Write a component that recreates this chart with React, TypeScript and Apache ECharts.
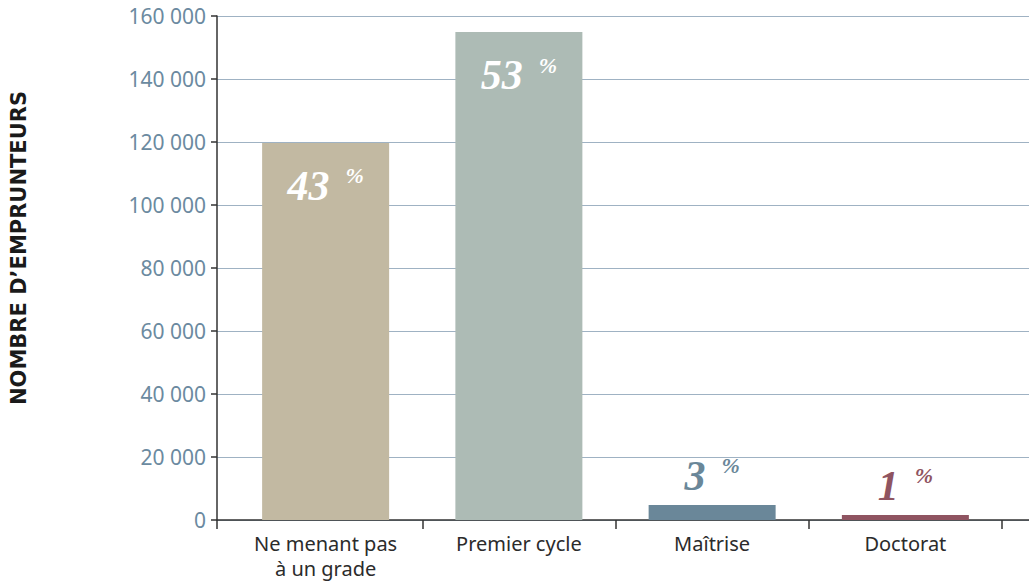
import React, { useEffect, useRef } from "react";
import * as echarts from "echarts";

const categories = ["Ne menant pas\nà un grade", "Premier cycle", "Maîtrise", "Doctorat"];
const borrowers = [119700, 154900, 4800, 1600];
const shares = ["43", "53", "3", "1"];
const barColors = ["#c2b9a2", "#adbbb5", "#6a8799", "#8f5461"];
const labelColors = ["#ffffff", "#ffffff", "#6a8799", "#8f5461"];
const labelInside = [true, true, false, false];
const yTicks = { min: 0, max: 160000, interval: 20000 };
const yAxisTitle = "NOMBRE D’EMPRUNTEURS";

const fmt = (v: number) => (v === 0 ? "0" : String(v).replace(/\B(?=(\d{3})+(?!\d))/g, " "));

export default function App() {
  const ref = useRef<HTMLDivElement>(null);
  useEffect(() => {
    document.body.style.margin = "0";
    const chart = echarts.init(ref.current!, null, { renderer: "svg" });
    const data = borrowers.map((v, i) => ({
      value: v,
      itemStyle: { color: barColors[i] },
      label: {
        show: true,
        position: labelInside[i] ? "insideTop" : "top",
        distance: labelInside[i] ? 22 : 8,
        formatter: `{n|${shares[i]}}{p|%}`,
        rich: {
          n: {
            fontFamily: "Liberation Serif",
            fontStyle: "italic",
            fontWeight: "bold",
            fontSize: 42,
            color: labelColors[i],
            verticalAlign: "bottom",
          },
          p: {
            fontFamily: "Liberation Serif",
            fontStyle: "italic",
            fontWeight: "bold",
            fontSize: 22,
            color: labelColors[i],
            verticalAlign: "top",
            padding: [0, 0, 12, 16],
          },
        },
      },
    }));
    chart.setOption({
      animation: false,
      grid: [
        { left: 229, right: 27, top: 16, bottom: 61 },
        { left: 217, right: 0, top: 16, bottom: 61 },
      ],
      xAxis: [
        {
          gridIndex: 0,
          type: "category",
          data: categories,
          axisLine: { show: false },
          axisTick: {
            show: true,
            length: 9,
            lineStyle: { color: "#333", width: 1.5 },
            interval: (index: number) => index !== 0,
          },
          axisLabel: {
            color: "#2b2b2b",
            fontFamily: "Noto Sans",
            fontSize: 20,
            lineHeight: 25,
            margin: 11,
          },
        },
        {
          gridIndex: 1,
          type: "value",
          min: 0,
          max: 1,
          axisLine: { show: true, lineStyle: { color: "#333", width: 1.5 } },
          axisTick: {
            show: true,
            length: 9,
            customValues: [0],
            lineStyle: { color: "#333", width: 1.5 },
          },
          axisLabel: { show: false },
          splitLine: { show: false },
        },
      ],
      yAxis: [
        {
          gridIndex: 0,
          type: "value",
          min: yTicks.min,
          max: yTicks.max,
          interval: yTicks.interval,
          show: false,
          splitLine: { show: false },
        },
        {
          gridIndex: 1,
          type: "value",
          min: yTicks.min,
          max: yTicks.max,
          interval: yTicks.interval,
          name: yAxisTitle,
          nameLocation: "middle",
          nameGap: 188,
          nameRotate: 90,
          nameTextStyle: {
            fontFamily: "DejaVu Sans",
            fontWeight: "bold",
            fontSize: 21,
            color: "#1a1a1a",
            padding: [0, 0, 0, 40],
          },
          axisLine: { show: true, lineStyle: { color: "#333", width: 1.5 } },
          axisTick: { show: true, length: 6, lineStyle: { color: "#333", width: 1.5 } },
          axisLabel: {
            color: "#6b8aa0",
            fontFamily: "Noto Sans",
            fontSize: 21,
            margin: 11,
            formatter: fmt,
          },
          splitLine: { show: true, lineStyle: { color: "#9fb2c3", width: 1.2 } },
        },
      ],
      series: [
        {
          type: "bar",
          xAxisIndex: 0,
          yAxisIndex: 0,
          barWidth: 127,
          data,
        },
      ],
    });
    return () => chart.dispose();
  }, []);
  return <div ref={ref} style={{ width: 1029, height: 581 }} />;
}
